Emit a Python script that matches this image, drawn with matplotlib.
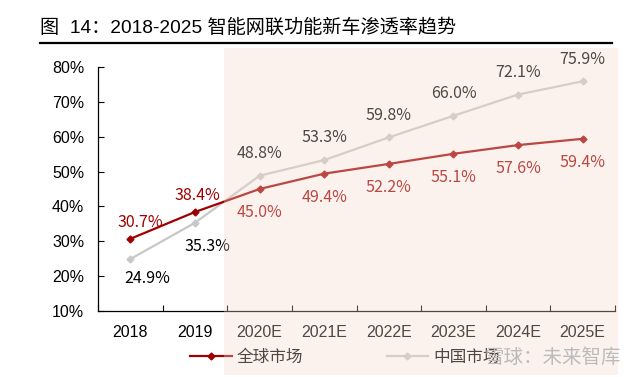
import matplotlib
matplotlib.use("Agg")
import matplotlib.pyplot as plt
from matplotlib.patches import Rectangle
from matplotlib.lines import Line2D
import numpy as np

plt.rcParams['font.family'] = ['Liberation Sans', 'Noto Sans CJK SC', 'DejaVu Sans']

# data
years = ['2018', '2019', '2020E', '2021E', '2022E', '2023E', '2024E', '2025E']
global_mkt = [30.7, 38.4, 45.0, 49.4, 52.2, 55.1, 57.6, 59.4]
china_mkt = [24.9, 35.3, 48.8, 53.3, 59.8, 66.0, 72.1, 75.9]
title = '图  14：2018-2025 智能网联功能新车渗透率趋势'

red = '#A00000'
gray = '#C8C8C8'

fig = plt.figure(figsize=(6.4, 3.77), dpi=100)
ax = fig.add_axes([98/640, 1-311/377, 517/640, 244/377])

x = np.arange(len(years))
ax.plot(x, china_mkt, color=gray, lw=1.6, marker='D', ms=3.5, zorder=2)
ax.plot(x, global_mkt, color=red, lw=1.6, marker='D', ms=3.5, zorder=3)

# label offsets in points (dx, dy)
g_off = [(7, 12), (2, 12)] + [(0, -17)] * 6
c_off = [(12, -14), (9, -17)] + [(0, 16)] * 6
lab_font = ['Noto Sans CJK SC']
for i, v in enumerate(global_mkt):
    ax.annotate(f'{v:.1f}%', (x[i], v), xytext=g_off[i], textcoords='offset points',
                ha='center', va='center', fontsize=11.5, color=red, family=lab_font)
for i, v in enumerate(china_mkt):
    ax.annotate(f'{v:.1f}%', (x[i], v), xytext=c_off[i], textcoords='offset points',
                ha='center', va='center', fontsize=11.5, color='black', family=lab_font)

ax.set_xlim(-0.5, len(years) - 0.5)
ax.set_ylim(10, 80)
ax.set_yticks(range(10, 81, 10))
ax.set_yticklabels([f'{t}%' for t in range(10, 81, 10)], fontsize=11.5)
ax.set_xticks(x)
ax.set_xticklabels(years, fontsize=11.5)
ax.set_xticks(np.arange(-0.5, len(years)), minor=True)
ax.tick_params(axis='x', which='major', length=0, pad=10)
ax.tick_params(axis='x', which='minor', direction='in', length=4, width=0.8)
ax.tick_params(axis='y', direction='in', length=4, width=0.8, pad=10)
for s in ['top', 'right']:
    ax.spines[s].set_visible(False)
for s in ['left', 'bottom']:
    ax.spines[s].set_linewidth(0.9)

handles = [Line2D([], [], color=red, lw=1.6, marker='D', ms=3.5),
           Line2D([], [], color=gray, lw=1.6, marker='D', ms=3.5)]
fig.legend(handles, ['全球市场', '中国市场'], loc='center left',
           bbox_to_anchor=(190/640, 1-357/377), ncol=2, frameon=False,
           handlelength=2.5, handletextpad=0.3, columnspacing=5.0,
           borderpad=0, borderaxespad=0,
           prop={'family': ['Noto Sans CJK SC'], 'size': 12})

# forecast shading overlay
fig.patches.append(Rectangle((224/640, 2/377), 394/640, 327/377, transform=fig.transFigure,
                             facecolor='#F5DACE', alpha=0.33, edgecolor='none', zorder=10))

fig.text(484/640, 1-357/377, '雪球：未来智库', fontsize=14, color='#BBBBBB',
         va='center', ha='left', family=['Noto Sans CJK SC'], zorder=11)

fig.text(40/640, 1-28/377, title, fontsize=13.8, va='center', ha='left',
         family=['Liberation Sans', 'Noto Sans CJK SC'])
fig.add_artist(Line2D([40/640, 612/640], [1-42.5/377, 1-42.5/377], color='black', lw=1.6,
                      transform=fig.transFigure))

fig.savefig('out.png', dpi=100)
